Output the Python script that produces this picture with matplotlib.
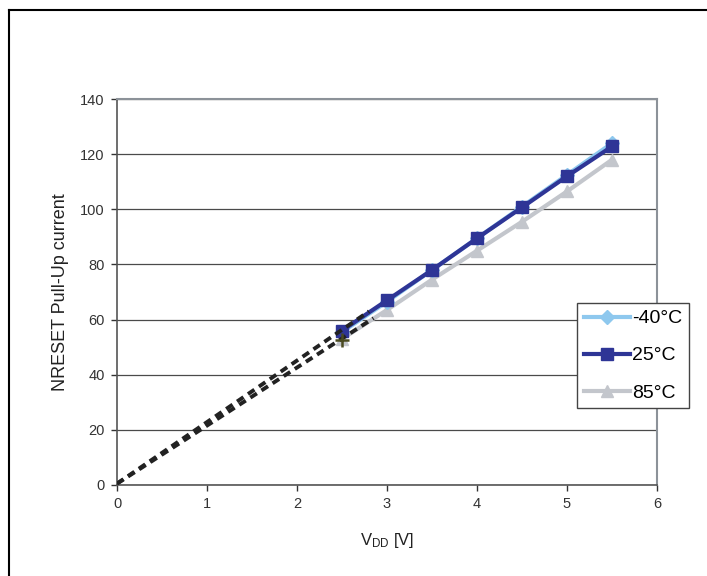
import matplotlib
matplotlib.use("Agg")
import matplotlib.pyplot as plt
from matplotlib.lines import Line2D

plt.rcParams['font.family'] = ['Liberation Sans', 'DejaVu Sans']
plt.rcParams['mathtext.default'] = 'regular'

# data
vdd = [2.5, 3.0, 3.5, 4.0, 4.5, 5.0, 5.5]
i_m40 = [55.5, 66.5, 78, 89.5, 101, 112.5, 124]
i_25 = [56, 67, 78, 89.5, 100.7, 112, 122.8]
i_85 = [53, 63.5, 74.5, 85, 95.5, 106.5, 118]

# dashed extrapolation towards zero
ext1_x = [0, 2.8]
ext1_y = [0.5, 63]
ext2_x = [0, 2.85]
ext2_y = [0.5, 60.5]
plus_x = [2.5]
plus_y = [52.5]

fig = plt.figure(figsize=(7.07, 5.76), dpi=100)
ax = fig.add_axes([0.1655, 0.158, 0.7638, 0.67])

ax.plot(ext1_x, ext1_y, color='#222222', lw=2.8, ls=(0, (2.0, 1.4)), zorder=4)
ax.plot(ext2_x, ext2_y, color='#222222', lw=2.8, ls=(0, (2.0, 1.4)), zorder=4)

ax.plot(vdd, i_m40, color='#8ec8ee', lw=3, marker='D', ms=7, label='-40°C', zorder=3)
ax.plot(vdd, i_85, color='#c3c6cc', lw=3, marker='^', ms=9, label='85°C', zorder=2)
ax.plot(vdd, i_25, color='#2e3596', lw=3, marker='s', ms=8, label='25°C', zorder=3)
ax.plot(plus_x, plus_y, ls='none', marker='+', ms=10, mew=1.8, color='#4a4a20', zorder=5)

ax.set_xlim(0, 6)
ax.set_ylim(0, 140)
ax.set_xticks(range(0, 7))
ax.set_yticks(range(0, 141, 20))
ax.grid(axis='y', color='#4a4a4a', lw=0.9)
ax.set_axisbelow(True)
ax.tick_params(labelsize=10.5, colors='#333333', length=4, width=1, pad=5)
for s in ['left', 'bottom']:
    ax.spines[s].set_color('#555555')
    ax.spines[s].set_linewidth(1.2)
for s in ['top', 'right']:
    ax.spines[s].set_color('#8c9299')
    ax.spines[s].set_linewidth(1.5)

ax.set_ylabel('NRESET Pull-Up current', fontsize=13, color='#222222', labelpad=8)
ax.set_xlabel('V$_{DD}$ [V]', fontsize=12, color='#222222', labelpad=14)

h, l = ax.get_legend_handles_labels()
order = [0, 2, 1]
leg = ax.legend([h[i] for i in order], [l[i] for i in order],
                loc='upper left', bbox_to_anchor=(0.816, 0.474),
                bbox_transform=fig.transFigure, fontsize=14,
                frameon=True, fancybox=False, framealpha=1,
                edgecolor='#444444', handlelength=2.4, handletextpad=0.1,
                labelspacing=1.0, borderpad=0.35, borderaxespad=0)
leg.get_frame().set_linewidth(1.0)

# outer frame (top and left)
fig.add_artist(Line2D([9 / 707, 1], [1 - 10 / 576, 1 - 10 / 576], color='black', lw=1.5))
fig.add_artist(Line2D([9 / 707, 9 / 707], [0, 1 - 10 / 576], color='black', lw=1.5))

fig.savefig('out.png', dpi=100)
